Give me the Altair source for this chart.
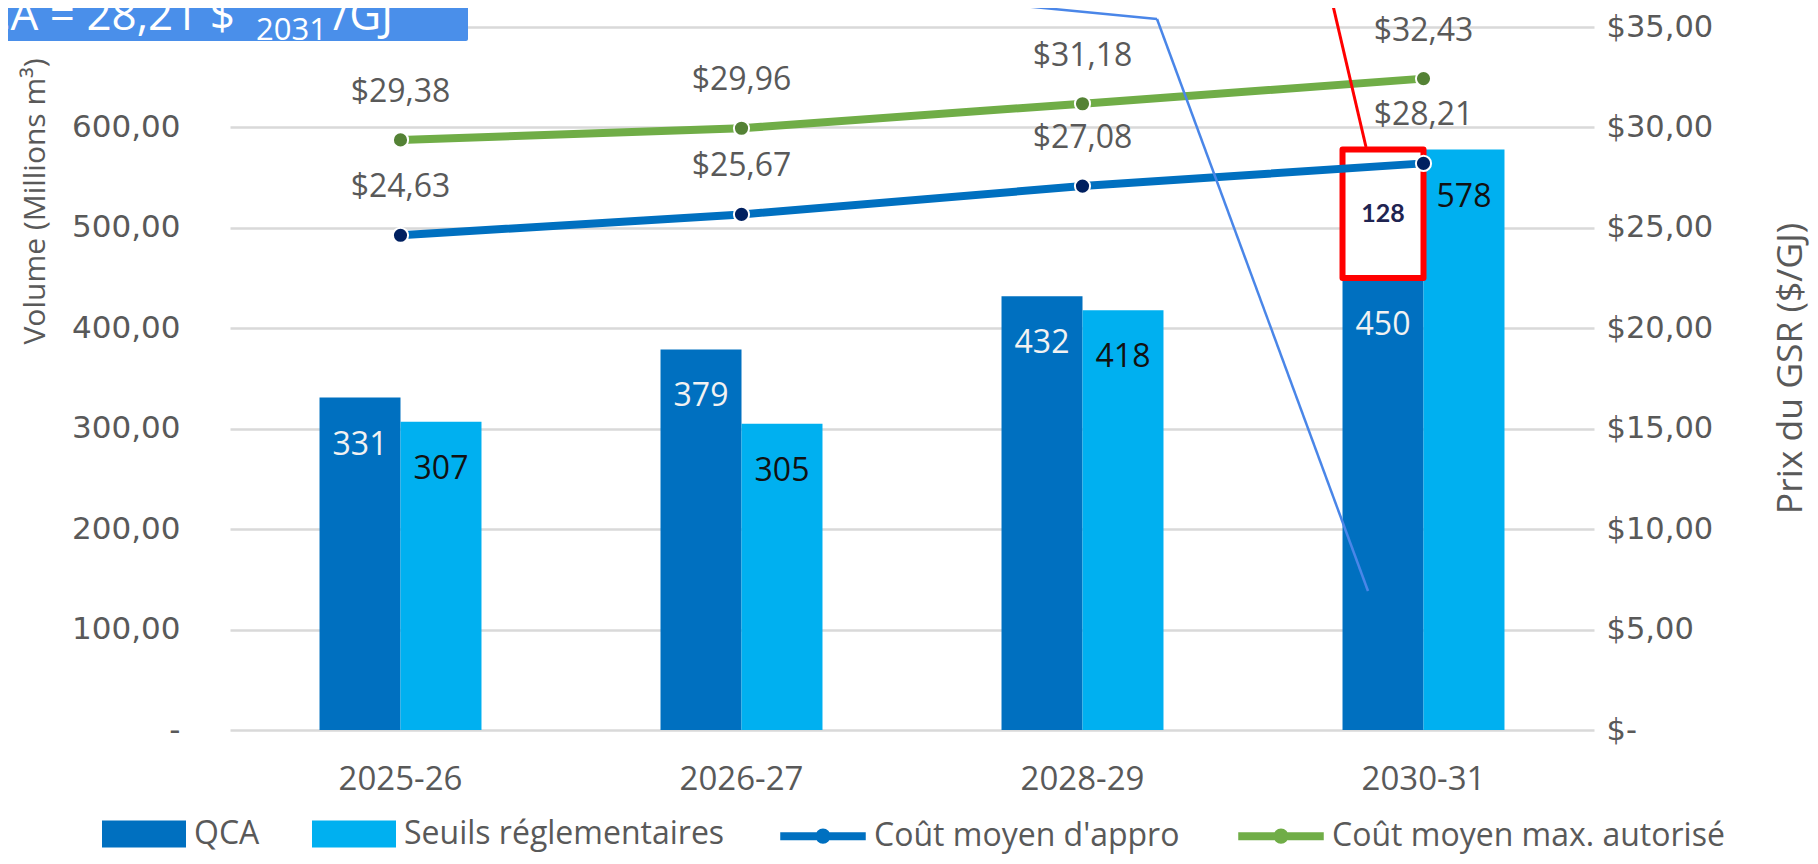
import altair as alt
import pandas as pd

# ---------------- data ----------------
periods = ["2025-26", "2026-27", "2028-29", "2030-31"]
bar_series = ["QCA", "Seuils réglementaires"]
qca = [331, 379, 432, 450]
seuils = [307, 305, 418, 578]
line_series = ["Coût moyen d'appro", "Coût moyen max. autorisé"]
cout_appro = [24.63, 25.67, 27.08, 28.21]
cout_max = [29.38, 29.96, 31.18, 32.43]
left_ticks = [0, 100, 200, 300, 400, 500, 600, 700]
right_ticks = [0, 5, 10, 15, 20, 25, 30, 35]
annot_main = "Coût moyen QCA = 28,21 $"
annot_sub = "2031"
annot_tail = "/GJ"

# ---------------- styles ----------------
bar_colors = ["#0070C0", "#00B0F0"]
line_colors = ["#0070C0", "#70AD47"]
dot_colors = ["#002060", "#548235"]
grey = "#595959"
tick_font = "DejaVu Sans"
txt_font = "Open Sans"

bars_df = pd.DataFrame({
    "period": periods * 2,
    "series": [bar_series[0]] * len(periods) + [bar_series[1]] * len(periods),
    "value": qca + seuils,
})
lines_df = pd.DataFrame({
    "period": periods * 2,
    "series": [line_series[0]] * len(periods) + [line_series[1]] * len(periods),
    "value": cout_appro + cout_max,
})
gap_df = pd.DataFrame({
    "period": [periods[-1]],
    "series": [bar_series[0]],
    "value": [qca[-1]],
    "high": [seuils[-1]],
})
gap_df["gap"] = gap_df["high"] - gap_df["value"]
gap_df["mid"] = (gap_df["high"] + gap_df["value"]) / 2

x_enc = alt.X(
    "period:N", sort=periods,
    scale=alt.Scale(domain=periods, paddingInner=0.525, paddingOuter=0.2625),
    axis=alt.Axis(title=None, labelAngle=0, labelFont=txt_font, labelFontSize=33,
                  labelColor=grey, labelPadding=33, ticks=False, tickSize=0,
                  domain=False, grid=False),
)
xoff_enc = alt.XOffset("series:N", sort=bar_series, scale=alt.Scale(domain=bar_series))

y_left_scale = alt.Scale(domain=[0, 700], nice=False)
y_right_scale = alt.Scale(domain=[0, 35], nice=False)

left_axis = alt.Axis(
    values=left_ticks,
    labelExpr="datum.value == 0 ? '-\u2007' : replace(format(datum.value, '.2f'), '.', ',')",
    labelFont=tick_font, labelFontSize=31, labelColor=grey, labelPadding=50,
    ticks=False, tickSize=0, domain=False,
    grid=True, gridColor="#D9D9D9", gridWidth=2.5,
    title="Volume (Millions m³)", titleFont=txt_font, titleFontSize=30,
    titleFontWeight="normal", titleColor=grey, titleAngle=270,
    titleX=-195, titleY=174, titleAlign="center", titleBaseline="middle",
    orient="left",
)
right_axis = alt.Axis(
    values=right_ticks,
    labelExpr="datum.value == 0 ? '$-' : '$' + replace(format(datum.value, '.2f'), '.', ',')",
    labelFont=tick_font, labelFontSize=30.5, labelColor=grey, labelPadding=12,
    ticks=False, tickSize=0, domain=False, grid=False,
    title="Prix du GSR ($/GJ)", titleFont=txt_font, titleFontSize=35.5,
    titleFontWeight="normal", titleColor=grey, titleAngle=270,
    titleX=196, titleY=341, titleAlign="center", titleBaseline="middle",
    orient="right",
)

fill_legend = alt.Legend(
    title=None, orient="none", legendX=-128, legendY=765, direction="horizontal",
    symbolType="M-1,-0.32H1V0.32H-1Z", symbolSize=7056, symbolStrokeWidth=0,
    labelFont=txt_font, labelFontSize=32, labelColor=grey, labelOffset=8,
    labelLimit=1000, columnPadding=52, padding=0,
)
stroke_legend = alt.Legend(
    title=None, orient="none", legendX=544, legendY=760, direction="horizontal",
    symbolType="M-0.95,0H0.95M0.08,0A0.08,0.08 0 1 1 -0.08,0A0.08,0.08 0 1 1 0.08,0Z",
    symbolSize=8100, symbolStrokeWidth=8, symbolFillColor="transparent",
    labelFont=txt_font, labelFontSize=32, labelColor=grey, labelOffset=2,
    labelLimit=1000, columnPadding=42, padding=0,
)

# ---------------- left (volume) group ----------------
y_left = alt.Y("value:Q", scale=y_left_scale, axis=left_axis)

bars = alt.Chart(bars_df).mark_bar().encode(
    x=x_enc, xOffset=xoff_enc, y=y_left,
    fill=alt.Fill("series:N", sort=bar_series,
                  scale=alt.Scale(domain=bar_series, range=bar_colors),
                  legend=fill_legend),
)
bar_labels = alt.Chart(bars_df).mark_text(
    font=txt_font, fontSize=32, baseline="alphabetic", dy=57
).encode(
    x=x_enc, xOffset=xoff_enc, y=y_left,
    text=alt.Text("value:Q", format="d"),
    color=alt.condition(alt.datum.series == bar_series[0], alt.value("#F2F2F2"), alt.value("#111111")),
)
gap_box = alt.Chart(gap_df).mark_bar(fill="white", stroke="#FF0000", strokeWidth=6,
                                     strokeJoin="round").encode(
    x=x_enc, xOffset=xoff_enc, y=y_left, y2="high:Q",
)
gap_text = alt.Chart(gap_df).transform_calculate(
    value="datum.mid"
).mark_text(
    font="Lato", fontSize=25, fontWeight="bold", color="#1F2451", baseline="middle"
).encode(
    x=x_enc, xOffset=xoff_enc, y=y_left,
    text=alt.Text("gap:Q", format="d"),
)
left_group = alt.layer(bars, bar_labels, gap_box, gap_text)

# ---------------- right (price) group ----------------
y_right = alt.Y("value:Q", scale=y_right_scale, axis=right_axis)

lines = alt.Chart(lines_df).mark_line(strokeWidth=8).encode(
    x=x_enc, y=y_right,
    stroke=alt.Stroke("series:N", sort=line_series,
                      scale=alt.Scale(domain=line_series, range=line_colors),
                      legend=stroke_legend),
    detail="series:N",
)
dots = alt.Chart(lines_df).mark_circle(size=230, opacity=1, stroke="white", strokeWidth=2).encode(
    x=x_enc, y=y_right,
    fill=alt.condition(alt.datum.series == line_series[0], alt.value(dot_colors[0]), alt.value(dot_colors[1])),
)
line_labels = alt.Chart(lines_df).transform_calculate(
    lab="'$' + replace(format(datum.value, '.2f'), '.', ',')"
).mark_text(font=txt_font, fontSize=32, color=grey, baseline="alphabetic", dy=-38).encode(
    x=x_enc, y=y_right, text="lab:N",
)

# ---------------- annotations (overlay callouts) ----------------
ann_df = pd.DataFrame({"main": [annot_main], "sub": [annot_sub], "tail": [annot_tail]})
ann_box = alt.Chart(ann_df).mark_rect(color="#4A8FEA", cornerRadius=2).encode(
    x=alt.value(-240), x2=alt.value(238), y=alt.value(-40), y2=alt.value(14))
ann_main = alt.Chart(ann_df).mark_text(font=txt_font, fontSize=44, color="white",
                                      align="right", baseline="alphabetic").encode(
    x=alt.value(5), y=alt.value(3), text="main:N")
ann_sub = alt.Chart(ann_df).mark_text(font=txt_font, fontSize=31, color="white",
                                     align="left", baseline="alphabetic").encode(
    x=alt.value(26), y=alt.value(13), text="sub:N")
ann_tail = alt.Chart(ann_df).mark_text(font=txt_font, fontSize=44, color="white",
                                      align="left", baseline="alphabetic").encode(
    x=alt.value(103), y=alt.value(3), text="tail:N")
blue_seg1 = alt.Chart(ann_df).mark_rule(color="#4A86E8", strokeWidth=2.5).encode(
    x=alt.value(700), y=alt.value(-30), x2=alt.value(927), y2=alt.value(-8))
blue_seg2 = alt.Chart(ann_df).mark_rule(color="#4A86E8", strokeWidth=2.5).encode(
    x=alt.value(927), y=alt.value(-8), x2=alt.value(1138), y2=alt.value(564))
red_line = alt.Chart(ann_df).mark_rule(color="#FF0000", strokeWidth=3).encode(
    x=alt.value(1101), y=alt.value(-30), x2=alt.value(1136), y2=alt.value(120))

right_group = alt.layer(lines, dots, line_labels, ann_box, ann_main, ann_sub, ann_tail,
                        blue_seg1, blue_seg2, red_line)

chart = alt.layer(left_group, right_group).resolve_scale(
    y="independent"
).properties(
    width=1364, height=703,
    autosize=alt.AutoSizeParams(type="none"),
    padding={"left": 222, "top": 19, "right": 216, "bottom": 126},
).configure_view(stroke=None)

chart.save("out.html", embed_options={"renderer": "svg", "actions": False})
